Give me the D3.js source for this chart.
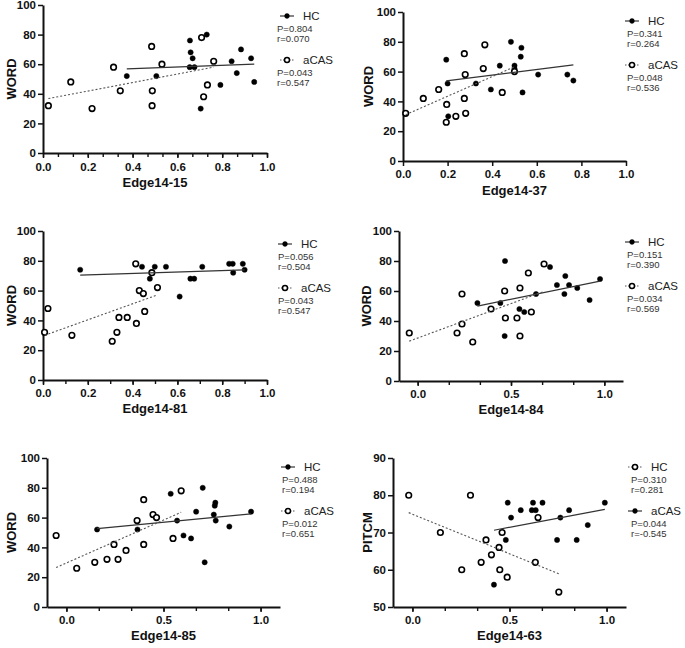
<!DOCTYPE html>
<html><head><meta charset="utf-8">
<script src="https://cdn.jsdelivr.net/npm/d3@7"></script>
<style>body{margin:0;background:#fff}</style>
</head><body><svg id="c" width="685" height="648"></svg>
<script>
// ---------- data ----------
const titles = ["Edge14-15","Edge14-37","Edge14-81","Edge14-84","Edge14-85","Edge14-63"];
const yTitles = ["WORD","WORD","WORD","WORD","WORD","PITCM"];
const groupA = ["HC","HC","HC","HC","HC","HC"];
const groupB = ["aCAS","aCAS","aCAS","aCAS","aCAS","aCAS"];
const pA = ["0.804","0.341","0.056","0.151","0.488","0.310"];
const rA = ["0.070","0.264","0.504","0.390","0.194","0.281"];
const pB = ["0.043","0.048","0.043","0.034","0.012","0.044"];
const rB = ["0.547","0.536","0.547","0.569","0.651","-0.545"];

const e15_hc_x = [0.374,0.506,0.656,0.659,0.668,0.655,0.676,0.731,0.704,0.792,0.842,0.865,0.884,0.929,0.943];
const e15_hc_y = [52,52,76,68,64,58,58,80,30,46,62,54,70,64,48];
const e15_cas_x = [0.024,0.124,0.219,0.315,0.345,0.485,0.488,0.487,0.531,0.708,0.762,0.734,0.717];
const e15_cas_y = [32,48,30,58,42,72,42,32,60,78,62,46,38];

const e37_hc_x = [0.194,0.200,0.203,0.327,0.394,0.434,0.484,0.500,0.500,0.531,0.528,0.536,0.606,0.737,0.764];
const e37_hc_y = [68,52,30,52,48,64,80,64,62,76,70,46,58,58,54];
const e37_cas_x = [0.012,0.091,0.160,0.196,0.194,0.237,0.281,0.275,0.279,0.275,0.360,0.367,0.445,0.500];
const e37_cas_y = [32,42,48,38,26,30,32,72,58,42,62,78,46,60];

const e81_hc_x = [0.166,0.442,0.477,0.499,0.549,0.610,0.658,0.675,0.711,0.831,0.847,0.849,0.892,0.900];
const e81_hc_y = [74,76,68,76,76,56,68,68,76,78,78,72,78,74];
const e81_cas_x = [0.007,0.022,0.129,0.309,0.330,0.339,0.376,0.417,0.414,0.430,0.448,0.454,0.486,0.511];
const e81_cas_y = [32,48,30,26,32,42,42,38,78,60,58,46,72,62];

const e84_hc_x = [0.320,0.443,0.468,0.466,0.545,0.571,0.634,0.709,0.746,0.791,0.786,0.811,0.855,0.921,0.977];
const e84_hc_y = [52,52,80,30,48,46,58,76,64,70,58,64,62,54,68];
const e84_cas_x = [-0.045,0.211,0.2375,0.2375,0.295,0.393,0.466,0.470,0.532,0.548,0.548,0.593,0.609,0.677];
const e84_cas_y = [32,32,58,38,26,48,60,42,42,62,30,72,46,78];

const e85_hc_x = [0.158,0.366,0.537,0.570,0.603,0.642,0.668,0.702,0.712,0.759,0.764,0.767,0.769,0.839,0.951];
const e85_hc_y = [52,52,76,58,48,46,64,80,30,62,68,70,58,54,64];
const e85_cas_x = [-0.053,0.053,0.146,0.209,0.266,0.245,0.307,0.364,0.398,0.398,0.446,0.464,0.549,0.591];
const e85_cas_y = [48,26,30,32,32,42,38,58,72,42,62,60,46,78];

// Edge14-63: first group (HC) drawn open/dotted, second (aCAS) filled/solid
const e63_hc_x = [-0.019,0.144,0.299,0.254,0.354,0.379,0.407,0.446,0.450,0.462,0.488,0.633,0.647,0.754];
const e63_hc_y = [80,70,80,60,62,68,64,66,60,70,58,62,74,54];
const e63_cas_x = [0.420,0.491,0.508,0.481,0.558,0.621,0.615,0.635,0.670,0.745,0.762,0.807,0.846,0.903,0.991];
const e63_cas_y = [56,78,74,68,76,78,76,76,78,68,74,76,68,72,78];

const xTicksA = [0,0.2,0.4,0.6,0.8,1.0];
const xTicksB = [0,0.5,1.0];
const yTicksWord = [0,20,40,60,80,100];
const yTicksPitch = [50,60,70,80,90];

// ---------- layout ----------
const FONT = "'Liberation Sans', Arial, Helvetica, sans-serif";
const svg = d3.select("#c");

const panels = [
 {i:0, L:43, R:267, T:5, B:153, xd:[0,1], yd:[0,100], yt:yTicksWord, xt:xTicksA, minor:d3.range(0,1.0001,1/15),
  a:[e15_hc_x,e15_hc_y], b:[e15_cas_x,e15_cas_y], aFilled:true, lx:277, mk:280, ly:16, ytx:11, tickLab:16, titleDy:34},
 {i:1, L:403, R:626, T:12, B:161, xd:[0,1], yd:[0,100], yt:yTicksWord, xt:xTicksA, minor:[],
  a:[e37_hc_x,e37_hc_y], b:[e37_cas_x,e37_cas_y], aFilled:true, lx:627, mk:625, ly:21, ytx:368, tickLab:15, titleDy:34},
 {i:2, L:43, R:267, T:231, B:380, xd:[0,1], yd:[0,100], yt:yTicksWord, xt:xTicksA, minor:d3.range(0,1.0001,0.1),
  a:[e81_hc_x,e81_hc_y], b:[e81_cas_x,e81_cas_y], aFilled:true, lx:278, mk:278, ly:244, ytx:11, tickLab:15, titleDy:33},
 {i:3, L:399, R:623, T:231, B:381, xd:[-0.1,1.1], yd:[0,100], yt:yTicksWord, xt:xTicksB, minor:d3.range(0,1.0001,1/6),
  a:[e84_hc_x,e84_hc_y], b:[e84_cas_x,e84_cas_y], aFilled:true, lx:627, mk:625, ly:242, ytx:366, tickLab:15, titleDy:33},
 {i:4, L:47, R:280, T:458, B:607, xd:[-0.1,1.1], yd:[0,100], yt:yTicksWord, xt:xTicksB, minor:d3.range(0,1.0001,1/6),
  a:[e85_hc_x,e85_hc_y], b:[e85_cas_x,e85_cas_y], aFilled:true, lx:282, mk:281, ly:467, ytx:11, tickLab:15, titleDy:33},
 {i:5, L:393, R:626, T:458, B:607, xd:[-0.1,1.1], yd:[50,90], yt:yTicksPitch, xt:xTicksB, minor:d3.range(0,1.0001,1/6),
  a:[e63_hc_x,e63_hc_y], b:[e63_cas_x,e63_cas_y], aFilled:false, lx:631, mk:628, ly:467, ytx:367, tickLab:15, titleDy:33}
];

function fit(xs, ys){
  const n = xs.length, mx = d3.mean(xs), my = d3.mean(ys);
  let sxy = 0, sxx = 0;
  for (let k=0;k<n;k++){ sxy += (xs[k]-mx)*(ys[k]-my); sxx += (xs[k]-mx)**2; }
  const m = sxy/sxx, c = my - m*mx;
  const x0 = d3.min(xs), x1 = d3.max(xs);
  return [[x0, c+m*x0],[x1, c+m*x1]];
}

panels.forEach(p => {
  const x = d3.scaleLinear().domain(p.xd).range([p.L, p.R]);
  const y = d3.scaleLinear().domain(p.yd).range([p.B, p.T]);
  const g = svg.append("g");

  const ya = g.append("g").attr("transform", `translate(${p.L},0)`)
    .call(d3.axisLeft(y).tickValues(p.yt).tickSize(5).tickSizeOuter(0).tickPadding(2));
  if (p.minor.length){
    const xm = g.append("g").attr("transform", `translate(0,${p.B})`)
      .call(d3.axisBottom(x).tickValues(p.minor).tickFormat("").tickSize(4).tickSizeOuter(0));
    xm.select(".domain").remove();
    xm.selectAll("line").attr("stroke","#111").attr("stroke-width",1.4);
  }
  const xa = g.append("g").attr("transform", `translate(0,${p.B})`)
    .call(d3.axisBottom(x).tickValues(p.xt).tickFormat(d3.format(".1f")).tickSize(5).tickSizeOuter(0).tickPadding(3));

  [ya, xa].forEach(a => {
    a.select(".domain").attr("stroke","#111").attr("stroke-width",2);
    a.selectAll(".tick line").attr("stroke","#111").attr("stroke-width",1.5);
    a.selectAll(".tick text").attr("font-family",FONT).attr("font-weight","bold")
      .attr("font-size",11.5).attr("fill","#111");
  });
  xa.selectAll(".tick text").attr("y", p.tickLab - 6).attr("dy","0.71em");

  g.append("text").attr("x",(p.L+p.R)/2).attr("y",p.B+p.titleDy)
    .attr("text-anchor","middle").attr("font-family",FONT).attr("font-weight","bold")
    .attr("font-size",13).attr("fill","#111").text(titles[p.i]);
  g.append("text").attr("transform",`translate(${p.ytx},${(p.T+p.B)/2}) rotate(-90)`)
    .attr("text-anchor","middle").attr("dy","0.36em").attr("font-family",FONT).attr("font-weight","bold")
    .attr("font-size",13).attr("fill","#111").text(yTitles[p.i]);

  const groups = [
    {xs:p.a[0], ys:p.a[1], filled:p.aFilled},
    {xs:p.b[0], ys:p.b[1], filled:!p.aFilled}
  ];
  groups.forEach(gr => {
    const pts = gr.xs.map((v,k)=>[v, gr.ys[k]]);
    g.append("g").selectAll("circle").data(pts).join("circle")
      .attr("cx", d=>x(d[0])).attr("cy", d=>y(d[1]))
      .attr("r", gr.filled ? 2.6 : 2.8)
      .attr("fill", gr.filled ? "#000" : "#fff")
      .attr("stroke", "#000").attr("stroke-width", gr.filled ? 0.5 : 1.6);
  });
  groups.forEach(gr => {
    const ln = fit(gr.xs, gr.ys);
    g.append("path").attr("d", d3.line().x(d=>x(d[0])).y(d=>y(d[1]))(ln))
      .attr("fill","none").attr("stroke", gr.filled ? "#333" : "#555")
      .attr("stroke-width", gr.filled ? 1.2 : 1.1)
      .attr("stroke-dasharray", gr.filled ? null : "2,2");
  });

  const lg = g.append("g");
  const entries = [
    {name:groupA[p.i], P:pA[p.i], r:rA[p.i], filled:p.aFilled, dy:0},
    {name:groupB[p.i], P:pB[p.i], r:rB[p.i], filled:!p.aFilled, dy:44}
  ];
  entries.forEach(e => {
    const cy = p.ly + e.dy, mx = p.mk;
    lg.append("line").attr("x1",mx).attr("x2",mx+14).attr("y1",cy).attr("y2",cy)
      .attr("stroke", e.filled ? "#222" : "#555").attr("stroke-width",1.1)
      .attr("stroke-dasharray", e.filled ? null : "1.5,1.5");
    lg.append("circle").attr("cx",mx+7).attr("cy",cy).attr("r", e.filled?2.4:2.5)
      .attr("fill", e.filled ? "#000" : "#fff").attr("stroke","#000").attr("stroke-width", e.filled?0.5:1.5);
    lg.append("text").attr("x",mx+23).attr("y",cy).attr("dy","0.36em")
      .attr("font-family",FONT).attr("font-size",11.5).attr("fill","#222").text(e.name);
    lg.append("text").attr("x",p.lx).attr("y",cy+13).attr("dy","0.36em")
      .attr("font-family",FONT).attr("font-size",9.5).attr("fill","#333").text("P=" + e.P);
    lg.append("text").attr("x",p.lx).attr("y",cy+23).attr("dy","0.36em")
      .attr("font-family",FONT).attr("font-size",9.5).attr("fill","#333").text("r=" + e.r);
  });
});
</script>
</body></html>
